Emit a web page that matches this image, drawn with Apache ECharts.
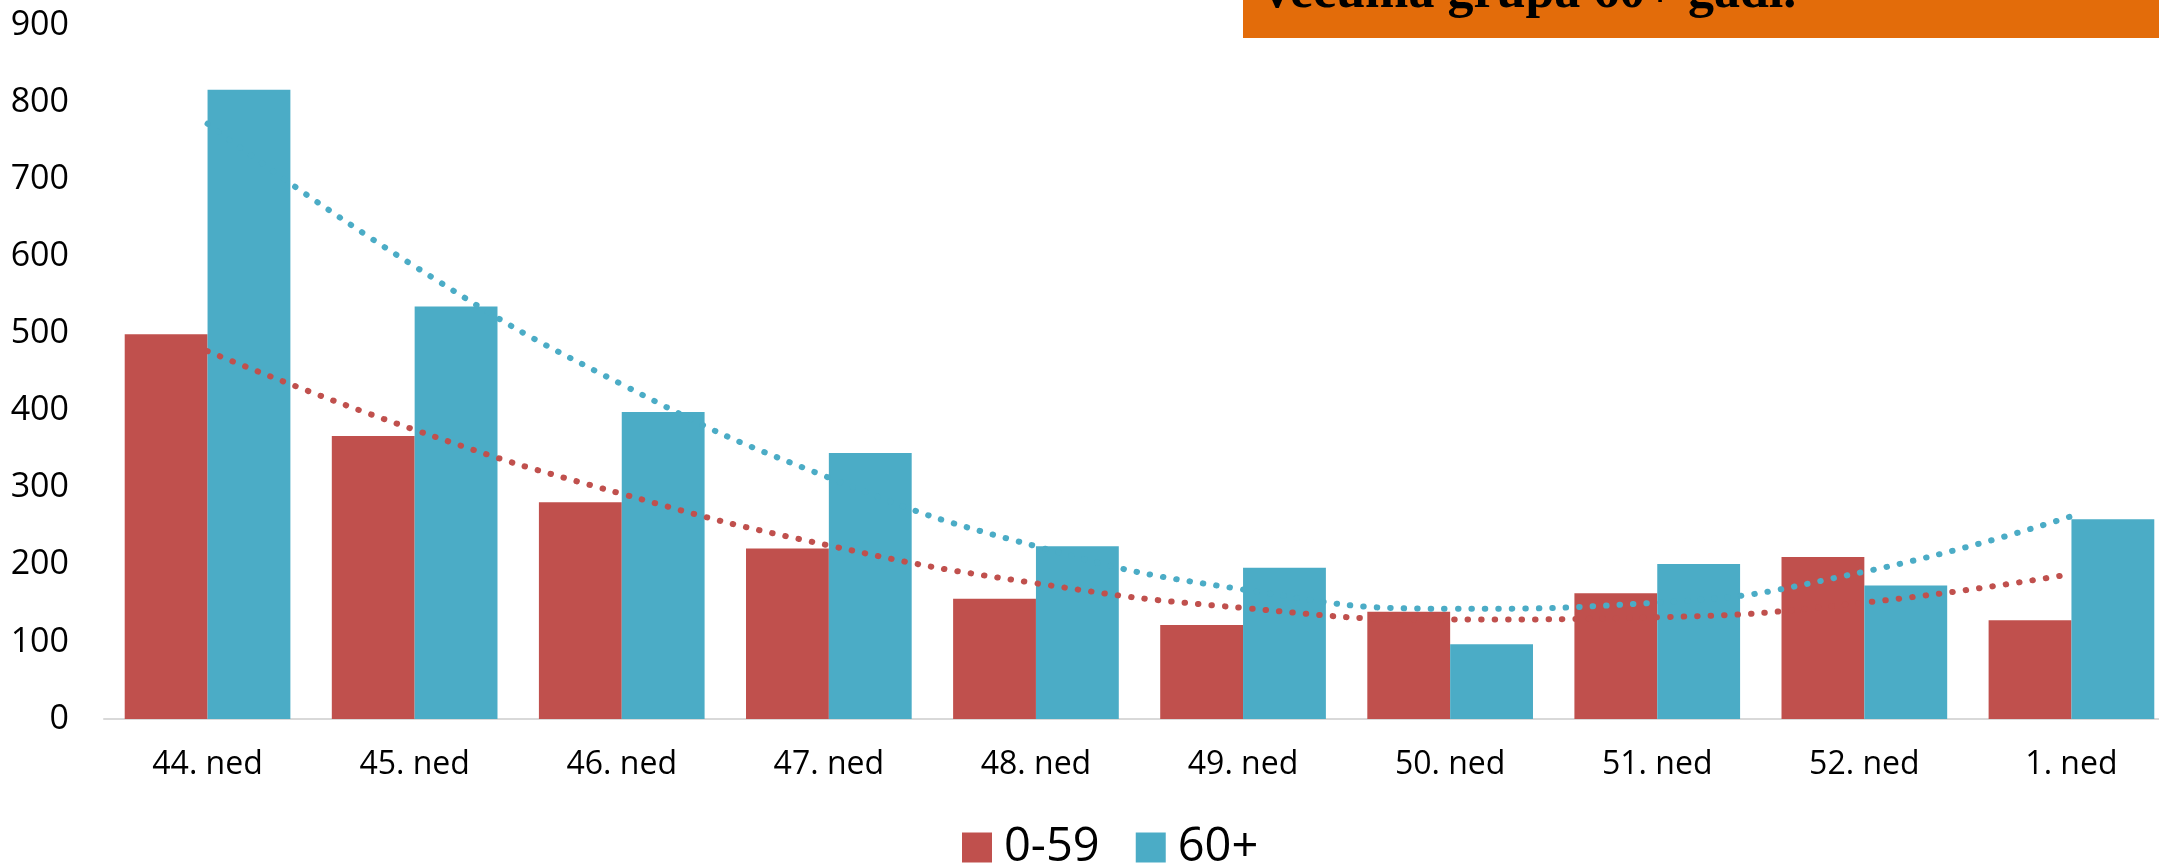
<!DOCTYPE html>
<html>
<head>
<meta charset="utf-8">
<script src="https://cdn.jsdelivr.net/npm/echarts@6/dist/echarts.min.js"></script>
<style>
html,body{margin:0;padding:0;background:#fff;overflow:hidden;}
#chart{width:2175px;height:865px;}
</style>
</head>
<body>
<div id="chart"></div>
<script>
const categories = ['44. ned','45. ned','46. ned','47. ned','48. ned','49. ned','50. ned','51. ned','52. ned','1. ned'];
const age0to59 = [499, 367, 281, 221, 156, 122, 139, 163, 210, 128];
const age60plus = [816, 535, 398, 345, 224, 196, 97, 201, 173, 259];
const trend0to59 = [477, 375, 292, 225, 176, 144, 129, 132, 151, 188];
const trend60plus = [772, 587, 434, 313, 224, 168, 143, 151, 191, 263];
const yTicks = {min: 0, max: 900, interval: 100};
const seriesNames = ['0-59', '60+'];
const headline = 'vecuma grupa 60+ gadi.';

const RED = '#C0504D', BLUE = '#4BACC6';
const chart = echarts.init(document.getElementById('chart'), null, {renderer: 'canvas'});
const dotted = (c) => ({color: c, width: 6, type: [0.5, 13], cap: 'round'});
chart.setOption({
  animation: false,
  grid: {left: 104, top: 25, right: 0, height: 694, containLabel: false},
  legend: {
    data: seriesNames,
    left: 957, top: 819,
    itemWidth: 30, itemHeight: 30, itemGap: 36,
    icon: 'rect',
    textStyle: {fontFamily: 'Open Sans', fontSize: 47, color: '#000', padding: [0,0,0,7]}
  },
  xAxis: {
    type: 'category', data: categories,
    axisLine: {lineStyle: {color: '#D9D9D9', width: 2}},
    axisTick: {show: false},
    axisLabel: {fontFamily: 'Open Sans', fontSize: 32, color: '#000', margin: 30}
  },
  yAxis: {
    type: 'value', min: yTicks.min, max: yTicks.max, interval: yTicks.interval,
    axisLine: {show: false}, axisTick: {show: false}, splitLine: {show: false},
    axisLabel: {fontFamily: 'Open Sans', fontSize: 34, color: '#000', margin: 35}
  },
  series: [
    {name: seriesNames[0], type: 'bar', data: age0to59, barGap: '0%', barCategoryGap: '20%', itemStyle: {color: RED}, z: 2},
    {name: seriesNames[1], type: 'bar', data: age60plus, barGap: '0%', barCategoryGap: '20%', itemStyle: {color: BLUE}, z: 2},
    {name: 'trend-' + seriesNames[0], type: 'line', data: trend0to59, smooth: true, showSymbol: false, symbol: 'none', lineStyle: dotted(RED), z: 5, silent: true},
    {name: 'trend-' + seriesNames[1], type: 'line', data: trend60plus, smooth: true, showSymbol: false, symbol: 'none', lineStyle: dotted(BLUE), z: 5, silent: true}
  ],
  graphic: [
    {type: 'rect', shape: {x: 1243, y: -80, width: 940, height: 118}, style: {fill: '#E36C0A'}, z: 10},
    {type: 'text', x: 1264, y: -6, style: {text: headline, font: 'bold 52px "Liberation Serif"', fill: '#000', verticalAlign: 'middle', align: 'left'}, z: 11}
  ]
});
</script>
</body>
</html>
